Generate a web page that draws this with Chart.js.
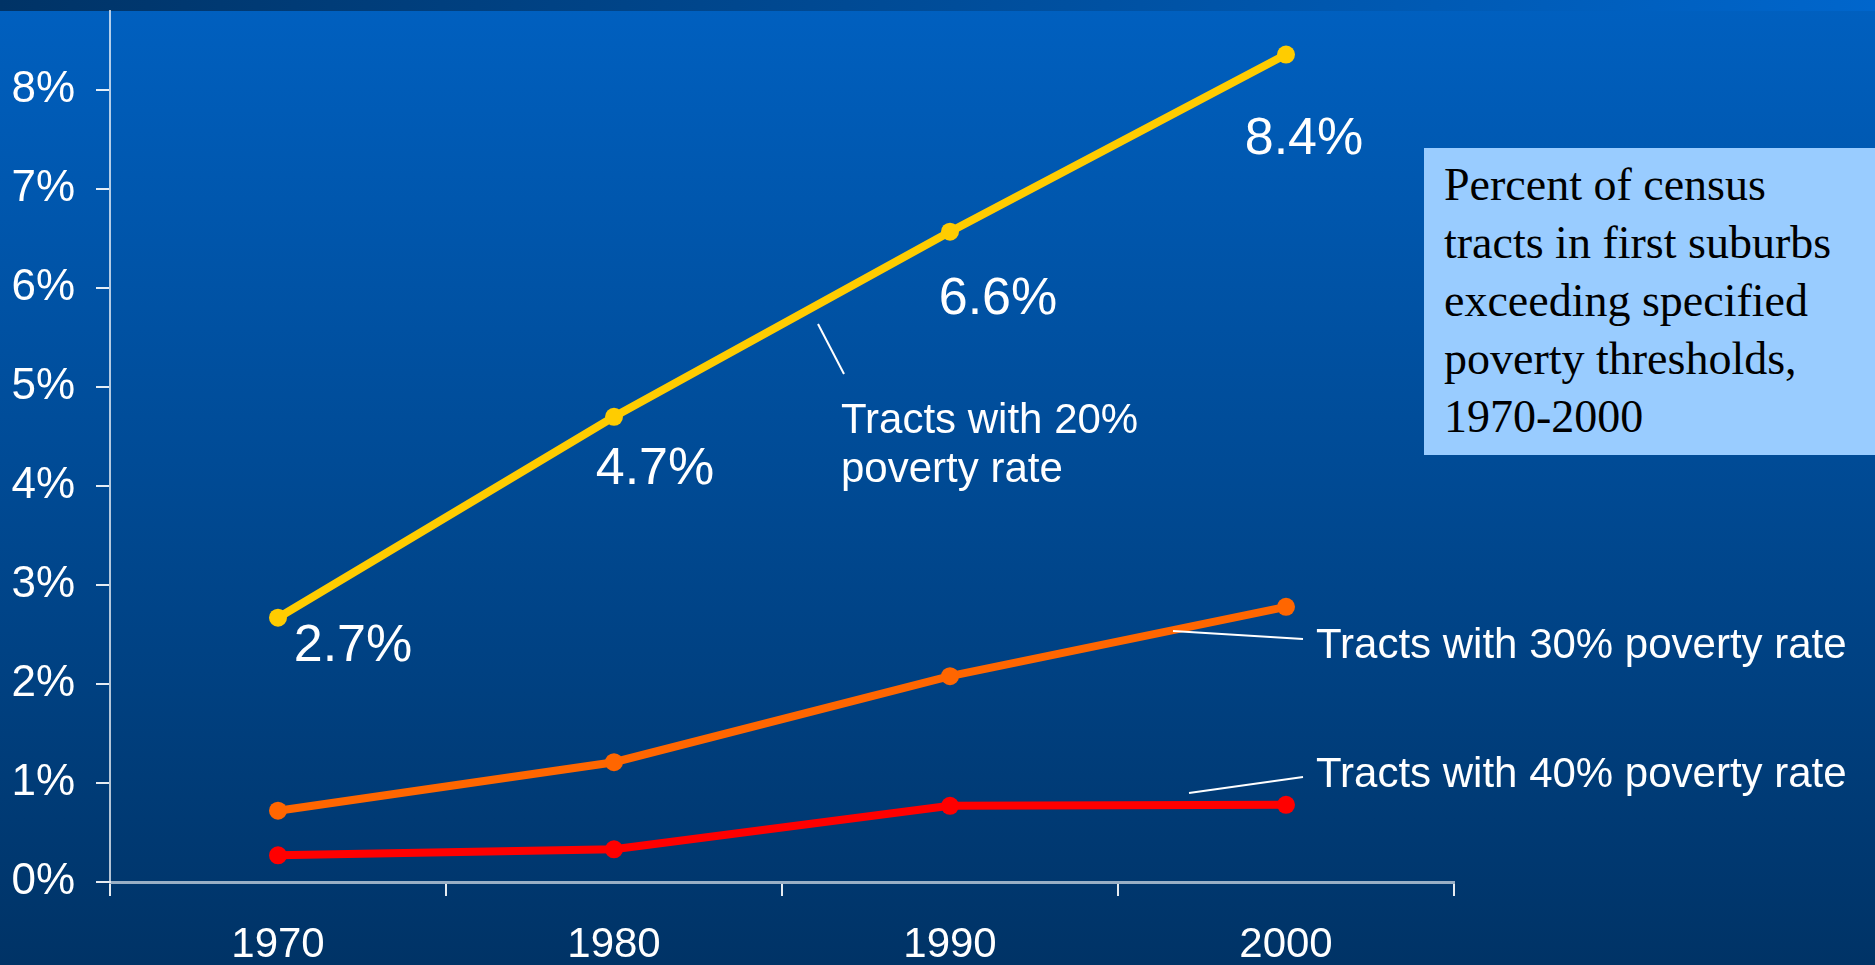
<!DOCTYPE html>
<html>
<head>
<meta charset="utf-8">
<title>Poverty thresholds in first suburbs</title>
<script src="https://cdn.jsdelivr.net/npm/chart.js@4.4.0/dist/chart.umd.min.js"></script>
<style>
  html, body { margin: 0; padding: 0; }
  body {
    width: 1875px; height: 965px; overflow: hidden; position: relative;
    background: linear-gradient(to bottom, #0060c0 0%, #004a94 50%, #003366 100%);
  }
  #band {
    position: absolute; left: 0; top: 0; width: 1875px; height: 11px;
    background: linear-gradient(to right, #003366 0%, #0066cc 100%);
  }
  canvas { position: absolute; left: 0; top: 0; }
  #note {
    position: absolute; left: 1424px; top: 148px; width: 431px; height: 299px;
    padding: 8px 0 0 20px; background: #99ccff; color: #000;
    font: 46px/58px "Liberation Serif", "DejaVu Serif", serif;
  }
</style>
</head>
<body>
<div id="band"></div>
<canvas id="chart" width="1875" height="965"></canvas>
<div id="note">Percent of census<br>tracts in first suburbs<br>exceeding specified<br>poverty thresholds,<br>1970-2000</div>
<script>
// values (percent of tracts)
const years = ["1970", "1980", "1990", "2000"];
const pov20 = [2.67, 4.70, 6.57, 8.36];
const pov30 = [0.72, 1.21, 2.08, 2.78];
const pov40 = [0.27, 0.33, 0.77, 0.78];
const pov20Labels = ["2.7%", "4.7%", "6.6%", "8.4%"];
const yTicks = [0, 1, 2, 3, 4, 5, 6, 7, 8];

// where each value label sits relative to its point (centre x, baseline y)
const labelOffsets = [[75, 43], [41, 67], [48, 82], [18, 99]];

const sans = '"Liberation Sans", Arial, sans-serif';

const annotations = {
  id: "annotations",
  afterDatasetsDraw(chart) {
    const ctx = chart.ctx;
    ctx.save();
    ctx.fillStyle = "#fff";

    // value labels on the 20% line
    ctx.font = "52px " + sans;
    ctx.textAlign = "center";
    ctx.textBaseline = "alphabetic";
    chart.getDatasetMeta(0).data.forEach((pt, i) => {
      ctx.fillText(pov20Labels[i], pt.x + labelOffsets[i][0], pt.y + labelOffsets[i][1]);
    });

    // series names
    ctx.font = "42px " + sans;
    ctx.textAlign = "left";
    ctx.fillText("Tracts with 20%", 841, 433);
    ctx.fillText("poverty rate", 841, 482);
    ctx.fillText("Tracts with 30% poverty rate", 1316, 658);
    ctx.fillText("Tracts with 40% poverty rate", 1316, 787);

    // leader lines
    ctx.strokeStyle = "#fff";
    ctx.lineWidth = 2;
    [[818, 324, 844, 374], [1173, 631, 1303, 639], [1189, 793, 1303, 777]].forEach(l => {
      ctx.beginPath();
      ctx.moveTo(l[0], l[1]);
      ctx.lineTo(l[2], l[3]);
      ctx.stroke();
    });
    ctx.restore();
  }
};

const series = (data, color) => ({
  data: data,
  borderColor: color,
  backgroundColor: color,
  borderWidth: 8,
  pointRadius: 9,
  pointBorderWidth: 0,
  pointBackgroundColor: color,
  tension: 0,
  clip: false
});

new Chart(document.getElementById("chart"), {
  type: "line",
  data: {
    labels: years,
    datasets: [
      series(pov20, "#ffcc00"),
      series(pov30, "#ff6600"),
      series(pov40, "#ff0000")
    ]
  },
  options: {
    responsive: false,
    animation: false,
    devicePixelRatio: 1,
    layout: { padding: { left: 0, top: 11, right: 421, bottom: 0 } },
    plugins: { legend: { display: false }, tooltip: { enabled: false } },
    scales: {
      x: {
        type: "category",
        offset: true,
        afterFit: s => { s.height = 83; s.paddingLeft = 0; s.paddingRight = 0; },
        grid: { offset: true, drawOnChartArea: false, drawTicks: true, tickLength: 14, color: "rgba(255,255,255,0.9)", lineWidth: 2 },
        border: { color: "rgba(255,255,255,0.6)", width: 3 },
        ticks: { color: "#fff", font: { family: sans, size: 42 }, padding: 24, maxRotation: 0 }
      },
      y: {
        min: 0,
        max: 8.8,
        afterFit: s => { s.width = 110; s.paddingTop = 0; s.paddingBottom = 0; },
        afterBuildTicks: s => { s.ticks = yTicks.map(v => ({ value: v })); },
        grid: { drawOnChartArea: false, drawTicks: true, tickLength: 14, color: "rgba(255,255,255,0.9)", lineWidth: 2 },
        border: { color: "rgba(255,255,255,0.7)", width: 2 },
        ticks: { color: "#fff", font: { family: sans, size: 44 }, padding: 21, callback: v => v + "%" }
      }
    }
  },
  plugins: [annotations]
});
</script>
</body>
</html>
